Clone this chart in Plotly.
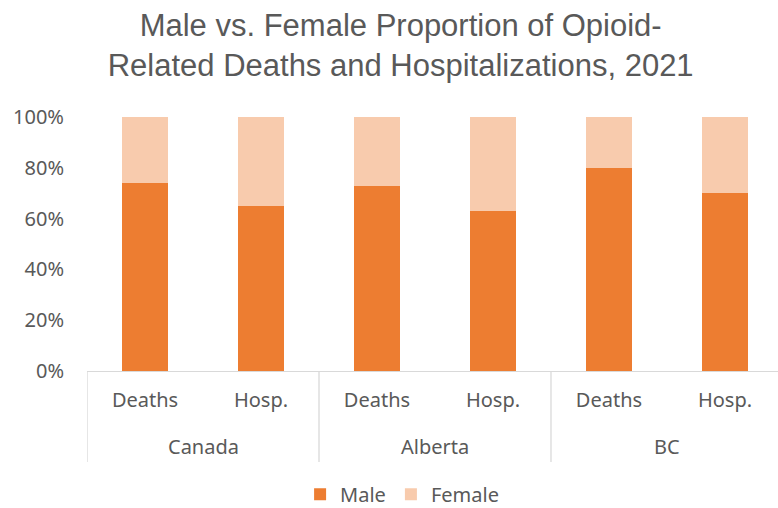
import plotly.graph_objects as go

regions = ["Canada", "Alberta", "BC"]
measures = ["Deaths", "Hosp."]
categories = [f"{r} {m}" for r in regions for m in measures]
measure_labels = [m for r in regions for m in measures]
male = [74, 65, 73, 63, 80, 70]
female = [26, 35, 27, 37, 20, 30]
y_ticks = [0, 20, 40, 60, 80, 100]
y_tick_labels = ["0%", "20%", "40%", "60%", "80%", "100%"]

GRAY = "#595959"
LINE = "#D9D9D9"
FONT = "Noto Sans"
FS = 20

fig = go.Figure()
fig.add_trace(go.Bar(x=categories, y=male, name="Male",
                     marker=dict(color="#ED7D31", line=dict(width=0))))
fig.add_trace(go.Bar(x=categories, y=female, name="Female",
                     marker=dict(color="#F8CBAD", line=dict(width=0))))

# group dividers and group labels
n_per = len(measures)
for i, r in enumerate(regions):
    left = i * n_per - 0.5
    fig.add_shape(type="line", xref="x", yref="paper", x0=left, x1=left,
                  y0=0, y1=-0.358, line=dict(color=LINE, width=1.3), layer="above")
    fig.add_annotation(x=left + n_per / 2, xref="x", y=-0.299, yref="paper",
                       text=r, showarrow=False, yanchor="middle",
                       font=dict(family=FONT, size=FS, color=GRAY))

fig.update_layout(
    width=778, height=508,
    barmode="stack", bargap=0.6,
    plot_bgcolor="white", paper_bgcolor="white",
    margin=dict(l=87, r=0, t=117, b=137, autoexpand=False),
    title=dict(text="Male vs. Female Proportion of Opioid-<br>Related Deaths and Hospitalizations, 2021",
               x=0.515, xanchor="center", y=0.93, yanchor="top", yref="container",
               font=dict(family="Liberation Sans", size=31, color=GRAY)),
    font=dict(family=FONT, size=FS, color=GRAY),
    showlegend=True,
    legend=dict(orientation="h", x=0.456, xanchor="center", y=-0.485, yanchor="middle",
                font=dict(family=FONT, size=FS, color=GRAY), traceorder="normal",
                itemwidth=30, tracegroupgap=0),
    xaxis=dict(type="category", range=[-0.5, 5.457], automargin=False,
               tickvals=categories, ticktext=measure_labels,
               showline=True, linecolor=LINE, linewidth=1.3, ticks="",
               ticklabelstandoff=11,
               tickfont=dict(family=FONT, size=FS, color=GRAY)),
    yaxis=dict(range=[0, 100], tickvals=y_ticks, ticktext=y_tick_labels, automargin=False,
               showgrid=False, zeroline=False, showline=False, ticklabelstandoff=22,
               tickfont=dict(family=FONT, size=FS, color=GRAY)),
)

fig.write_html("out.html", config={"displayModeBar": False},
               post_script="document.body.style.margin='0';document.body.style.overflow='hidden';")
